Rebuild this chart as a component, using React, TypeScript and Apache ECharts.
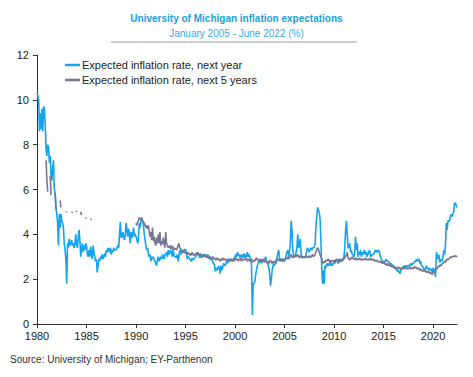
import React, { useEffect, useRef } from "react";
import * as echarts from "echarts";

const _ = null;

// Expected inflation rate, next year (monthly, Jan 1980 - Jun 2022)
const nextYear1980s = [
  10.3, 10.2, 10.0, 8.6, 9.4, 8.7, 9.6, 8.6, 9.7, 9.6, 8.9, 7.8,
  7.5, 8.0, 7.9, 7.2, 7.5, 6.6, 6.4, 7.0, 7.3, 6.0, 5.8, 5.2,
  4.9, 4.5, 3.5, 4.9, 4.3, 4.9, 4.6, 4.5, 4.3, 3.6, 3.3, 2.9,
  1.8, 3.6, 3.4, 3.8, 3.5, 3.6, 3.75, 3.5, 3.6, 3.4, 3.6, 4.0,
  3.5, 3.4, 3.9, 4.2, 3.7, 3.0, 3.4, 3.6, 3.2, 3.5, 3.3, 3.6,
  3.5, 3.1, 3.0, 3.3, 3.0, 3.45, 3.1, 2.9, 3.5, 3.2, 3.0, 2.8,
  2.9, 2.3, 2.6, 2.9, 2.8, 3.0, 2.9, 3.1, 2.9, 3.0, 3.15, 3.0,
  3.3, 3.2, 3.4, 3.3, 3.2, 3.4, 3.1, 3.3, 3.2, 3.4, 3.3, 3.3,
  3.3, 3.4, 3.5, 3.4, 4.0, 4.55, 3.85, 3.9, 4.1, 3.9, 3.75, 4.0,
  4.5, 4.2, 3.9, 4.25, 4.0, 3.6, 4.1, 3.85, 4.0, 4.3, 3.9, 4.0,
];
const nextYear1990s = [
  3.9, 3.8, 3.6, 3.8, 4.5, 4.3, 4.6, 4.75, 4.6, 4.4, 4.0, 3.75,
  3.5, 3.3, 3.4, 3.1, 3.0, 3.1, 2.8, 3.0, 2.9, 3.0, 2.85, 2.8,
  2.7, 2.6, 2.9, 3.0, 2.8, 2.9, 3.0, 2.9, 3.1, 3.0, 2.9, 3.1,
  3.1, 3.2, 3.0, 3.3, 3.1, 3.2, 3.3, 3.15, 3.0, 3.3, 3.1, 3.0,
  3.0, 2.95, 3.1, 2.8, 3.0, 3.3, 3.1, 3.3, 3.15, 3.3, 3.2, 3.35,
  3.3, 3.25, 2.9, 3.0, 2.95, 2.9, 2.85, 2.8, 2.95, 2.85, 2.9, 2.95,
  3.0, 3.05, 3.1, 3.2, 3.1, 2.95, 3.0, 3.1, 2.95, 3.1, 3.05, 3.1,
  3.1, 3.0, 3.05, 3.1, 2.95, 2.9, 3.0, 2.85, 2.9, 2.8, 2.65, 2.7,
  2.35, 2.5, 2.4, 2.45, 2.6, 2.5, 2.25, 2.6, 2.4, 2.5, 2.7, 2.65,
  2.6, 2.7, 2.8, 2.7, 2.9, 2.8, 2.85, 2.9, 2.8, 2.9, 2.85, 2.95,
];
const nextYear2000s = [
  3.0, 3.1, 3.0, 3.2, 3.05, 3.1, 2.95, 3.05, 3.1, 2.95, 3.0, 3.15,
  2.95, 3.1, 3.0, 3.2, 3.0, 3.1, 3.0, 2.9, 2.6, 0.4, 1.8, 1.8,
  1.9, 2.2, 2.4, 2.6, 2.7, 2.8, 2.75, 2.85, 2.7, 2.9, 2.8, 2.9,
  2.9, 3.0, 2.8, 2.7, 2.65, 2.5, 2.2, 1.7, 2.0, 2.4, 2.6, 2.7,
  2.6, 2.8, 2.7, 3.0, 3.2, 3.3, 2.9, 2.9, 2.8, 2.9, 2.9, 2.8,
  2.8, 2.9, 3.1, 3.2, 3.3, 3.0, 3.2, 3.6, 4.6, 4.2, 3.3, 3.0,
  3.0, 3.0, 3.2, 3.4, 4.0, 3.4, 3.5, 3.8, 3.2, 2.95, 3.0, 3.0,
  3.0, 3.0, 3.1, 3.3, 3.4, 3.3, 3.2, 3.3, 3.4, 3.3, 3.4, 3.4,
  3.4, 3.6, 4.3, 4.8, 5.2, 5.1, 5.0, 4.7, 3.8, 2.6, 1.8, 2.4,
  1.8, 2.6, 2.5, 2.7, 2.6, 2.7, 2.6, 2.8, 2.6, 2.7, 2.6, 2.7,
];
const nextYear2010s = [
  2.8, 2.7, 2.8, 2.9, 2.8, 2.7, 2.8, 2.9, 2.8, 2.9, 2.8, 2.9,
  3.0, 3.4, 4.2, 4.6, 4.0, 3.4, 3.4, 3.6, 3.2, 3.3, 3.1, 3.1,
  3.0, 3.1, 3.9, 3.3, 3.6, 3.0, 3.2, 3.1, 3.3, 3.0, 3.2, 3.1,
  3.2, 3.3, 3.1, 3.2, 3.0, 3.1, 3.2, 3.3, 3.1, 3.0, 3.1, 3.1,
  3.1, 3.2, 3.3, 3.2, 3.3, 3.2, 3.3, 3.2, 3.0, 2.95, 2.8, 2.8,
  2.8, 2.8, 2.8, 2.9, 2.8, 2.8, 2.8, 2.75, 2.7, 2.7, 2.65, 2.6,
  2.6, 2.5, 2.5, 2.45, 2.4, 2.35, 2.4, 2.3, 2.25, 2.4, 2.5, 2.5,
  2.55, 2.6, 2.5, 2.6, 2.6, 2.55, 2.6, 2.6, 2.65, 2.7, 2.6, 2.7,
  2.7, 2.75, 2.8, 2.8, 2.9, 2.8, 2.85, 2.9, 2.7, 2.8, 2.6, 2.6,
  2.5, 2.45, 2.4, 2.5, 2.6, 2.45, 2.5, 2.4, 2.5, 2.4, 2.45, 2.3,
];
const nextYear2020s = [
  2.5, 2.45, 2.3, 2.1, 3.2, 3.0, 2.9, 3.1, 2.75, 2.8, 2.9, 2.8,
  3.0, 3.3, 3.1, 3.5, 4.5, 4.2, 4.6, 4.6, 4.6, 4.8, 4.9, 4.8,
  4.9, 5.0, 5.4, 5.4, 5.3, 5.2,
];

// Expected inflation rate, next 5 years (monthly, gaps where not surveyed)
const next5y1980s = [
  _, _, _, _, _, _, _, _, _, _, _, 7.3,
  6.4, 5.9, _, _, 6.6, 5.75, _, _, _, _, 5.85, 5.1,
  _, _, _, _, 5.5, 5.2, _, _, _, _, _, 5.0,
  5.0, _, _, _, _, _, 4.95, 5.0, _, _, _, 5.0,
  5.05, _, _, _, _, 5.0, 4.85, _, _, _, _, 4.75,
  4.7, _, _, _, _, 4.65, 4.7, _, _, _, _, _,
  _, _, _, _, _, _, _, _, _, _, _, _,
  _, _, _, _, _, _, _, _, _, _, _, _,
  _, _, _, _, _, _, _, _, _, _, _, _,
  _, _, _, _, _, _, _, _, _, _, _, _,
];
const next5y1990s = [
  4.5, 4.4, 4.55, 4.6, 4.75, 4.7, 4.65, 4.7, 4.6, 4.55, 4.5, 4.4,
  4.3, 4.4, 4.25, 4.4, 4.1, 3.9, 4.1, 3.75, 4.3, 3.7, 3.9, 3.6,
  3.5, 3.85, 3.6, 4.0, 3.6, 4.1, 3.5, 3.7, 3.55, 3.85, 3.6, 3.4,
  4.1, 3.6, 3.5, 3.4, 3.45, 3.5, 3.35, 3.4, 3.5, 3.3, 3.4, 3.35,
  3.35, 3.3, 3.4, 3.5, 3.6, 3.4, 3.35, 3.3, 3.25, 3.2, 3.3, 3.15,
  3.2, 3.15, 3.1, 3.2, 3.1, 3.15, 3.05, 3.1, 3.2, 3.1, 3.05, 3.1,
  3.15, 3.1, 3.2, 3.1, 3.05, 3.1, 3.15, 3.0, 3.05, 3.1, 3.0, 3.05,
  3.0, 3.05, 2.95, 3.0, 3.05, 2.95, 3.0, 2.9, 2.95, 3.0, 2.9, 2.95,
  2.9, 2.85, 2.95, 2.9, 2.85, 2.9, 2.8, 2.9, 2.85, 2.95, 2.85, 2.9,
  2.85, 2.9, 2.8, 2.9, 2.85, 2.9, 2.8, 2.85, 2.9, 2.8, 2.85, 2.8,
];
const next5y2000s = [
  2.9, 2.95, 2.85, 2.9, 2.8, 2.9, 2.85, 2.95, 2.8, 2.9, 2.85, 2.9,
  2.85, 2.9, 2.95, 2.8, 2.85, 2.9, 2.8, 2.85, 2.9, 2.75, 2.8, 2.85,
  2.8, 2.9, 2.95, 2.85, 2.9, 2.8, 2.85, 2.9, 2.8, 2.75, 2.85, 2.8,
  2.75, 2.85, 2.8, 2.75, 2.8, 2.7, 2.8, 2.85, 2.75, 2.7, 2.8, 2.75,
  2.8, 2.75, 2.85, 2.9, 2.85, 2.9, 2.8, 2.85, 2.9, 2.8, 2.85, 2.9,
  2.85, 2.9, 2.95, 2.9, 3.0, 2.9, 2.95, 3.0, 3.1, 3.0, 2.95, 3.0,
  3.0, 3.1, 3.0, 3.05, 3.1, 3.0, 2.95, 3.05, 3.0, 2.95, 3.0, 2.95,
  3.0, 2.95, 3.05, 3.0, 2.95, 3.0, 3.05, 2.95, 3.0, 3.05, 3.1, 3.0,
  3.05, 3.1, 3.2, 3.3, 3.4, 3.35, 3.2, 3.1, 3.0, 2.9, 2.75, 2.7,
  2.8, 2.75, 2.85, 2.8, 2.85, 2.9, 2.8, 2.85, 2.75, 2.8, 2.85, 2.8,
];
const next5y2010s = [
  2.75, 2.85, 2.8, 2.9, 2.8, 2.85, 2.9, 2.75, 2.85, 2.8, 2.9, 2.85,
  2.9, 2.95, 3.0, 3.1, 3.2, 2.95, 2.9, 2.85, 2.95, 2.9, 3.0, 2.9,
  2.95, 2.9, 2.85, 2.95, 2.9, 2.85, 2.9, 2.95, 2.85, 2.9, 2.85, 2.9,
  2.85, 2.9, 2.95, 2.85, 2.9, 2.85, 2.9, 2.85, 2.95, 2.85, 2.9, 2.85,
  2.9, 2.8, 2.85, 2.8, 2.85, 2.8, 2.75, 2.8, 2.75, 2.8, 2.7, 2.75,
  2.7, 2.75, 2.65, 2.7, 2.6, 2.7, 2.65, 2.6, 2.65, 2.55, 2.6, 2.55,
  2.55, 2.5, 2.55, 2.5, 2.45, 2.5, 2.55, 2.45, 2.5, 2.45, 2.5, 2.45,
  2.5, 2.45, 2.55, 2.5, 2.45, 2.5, 2.45, 2.5, 2.55, 2.45, 2.5, 2.5,
  2.45, 2.55, 2.5, 2.55, 2.5, 2.45, 2.5, 2.45, 2.4, 2.45, 2.4, 2.35,
  2.4, 2.35, 2.4, 2.35, 2.3, 2.35, 2.3, 2.35, 2.25, 2.3, 2.25, 2.2,
];
const next5y2020s = [
  2.3, 2.35, 2.3, 2.4, 2.5, 2.45, 2.55, 2.6, 2.55, 2.65, 2.6, 2.7,
  2.7, 2.75, 2.8, 2.75, 2.85, 2.9, 2.85, 2.9, 2.95, 3.0, 2.95, 3.0,
  3.0, 3.05, 3.0, 3.05, 3.0, 3.05,
];

const xTickYears = [1980, 1985, 1990, 1995, 2000, 2005, 2010, 2015, 2020];
const yTicks = [0, 2, 4, 6, 8, 10, 12];

const START_YEAR = 1980;
const nextYear = [...nextYear1980s, ...nextYear1990s, ...nextYear2000s, ...nextYear2010s, ...nextYear2020s];
const next5y = [...next5y1980s, ...next5y1990s, ...next5y2000s, ...next5y2010s, ...next5y2020s];
const toPairs = (arr: (number | null)[]) => arr.map((v, i) => [START_YEAR + i / 12, v]);

const FONT = "Liberation Sans, Arial, sans-serif";
const BLUE = "#14A3EE";
const GREY = "#7A7590";

export default function App() {
  const ref = useRef<HTMLDivElement>(null);
  useEffect(() => {
    if (!ref.current) return;
    const chart = echarts.init(ref.current, undefined, { renderer: "svg" });
    const lastX = START_YEAR + (nextYear.length - 1) / 12;
    chart.setOption({
      animation: false,
      backgroundColor: "#ffffff",
      textStyle: { fontFamily: FONT },
      grid: { left: 37, right: 16, top: 55, bottom: 53, containLabel: false },
      legend: {
        orient: "vertical",
        left: 60,
        top: 54,
        icon: "rect",
        itemWidth: 15,
        itemHeight: 2.5,
        itemGap: 3,
        textStyle: { fontFamily: FONT, fontSize: 11, color: "#222", lineHeight: 12, padding: [0, 0, 0, -3] },
        data: ["Expected inflation rate, next year", "Expected inflation rate, next 5 years"],
      },
      xAxis: {
        type: "value",
        min: xTickYears[0],
        max: lastX,
        interval: 5,
        axisLine: { lineStyle: { color: "#333", width: 1 } },
        axisTick: { show: true, length: 4, lineStyle: { color: "#333" } },
        axisLabel: {
          color: "#222",
          fontSize: 11,
          fontFamily: FONT,
          margin: 6,
          showMaxLabel: false,
          formatter: (v: number) => (xTickYears.includes(Math.round(v)) ? String(Math.round(v)) : ""),
        },
        splitLine: { show: false },
      },
      yAxis: {
        type: "value",
        min: yTicks[0],
        max: yTicks[yTicks.length - 1],
        interval: 2,
        axisLine: { show: true, lineStyle: { color: "#333", width: 1 } },
        axisTick: { show: true, length: 4, lineStyle: { color: "#333" } },
        axisLabel: { color: "#222", fontSize: 11, fontFamily: FONT, margin: 8 },
        splitLine: { show: false },
      },
      series: [
        {
          name: "Expected inflation rate, next year",
          type: "line",
          data: toPairs(nextYear),
          showSymbol: false,
          symbol: "none",
          lineStyle: { color: BLUE, width: 1.6 },
          itemStyle: { color: BLUE },
          connectNulls: false,
        },
        {
          name: "Expected inflation rate, next 5 years",
          type: "line",
          data: toPairs(next5y),
          showSymbol: false,
          symbol: "none",
          lineStyle: { color: GREY, width: 1.6 },
          itemStyle: { color: GREY },
          connectNulls: false,
        },
      ],
      graphic: [
        {
          type: "text",
          left: "center",
          top: 13,
          style: {
            text: "University of Michigan inflation expectations",
            font: `bold 10px ${FONT}`,
            fill: "#1A9FE6",
          },
        },
        {
          type: "text",
          left: "center",
          top: 28,
          style: {
            text: "January 2005 - June 2022 (%)",
            font: `10px ${FONT}`,
            fill: "#3AAAE8",
          },
        },
        {
          type: "line",
          shape: { x1: 111, y1: 42, x2: 357, y2: 42 },
          style: { stroke: "#BDBDBD", lineWidth: 1.5 },
        },
        {
          type: "text",
          left: 10,
          top: 354,
          style: {
            text: "Source: University of Michigan; EY-Parthenon",
            font: `10px ${FONT}`,
            fill: "#333",
          },
        },
      ],
    });
    return () => chart.dispose();
  }, []);
  return (
    <div
      ref={ref}
      style={{ position: "fixed", left: 0, top: 0, width: 473, height: 377, background: "#fff" }}
    />
  );
}
